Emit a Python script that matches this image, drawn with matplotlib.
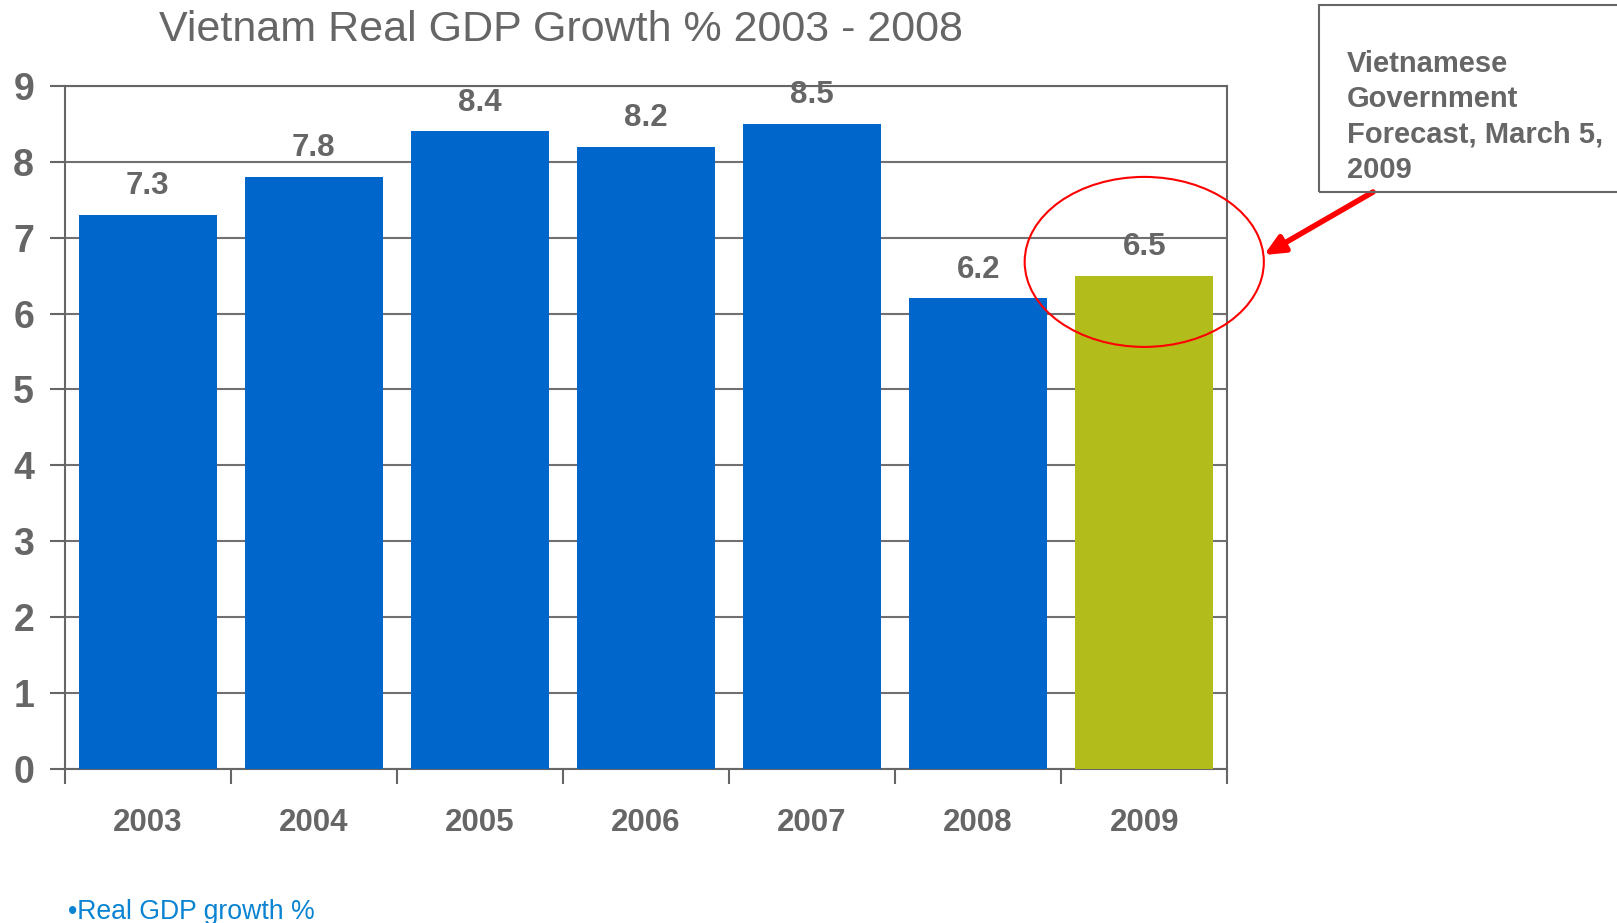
import matplotlib
matplotlib.use('Agg')
import matplotlib.pyplot as plt
from matplotlib.patches import Ellipse

plt.rcParams['font.family'] = ['Liberation Sans', 'DejaVu Sans']

years = ['2003', '2004', '2005', '2006', '2007', '2008', '2009']
growth = [7.3, 7.8, 8.4, 8.2, 8.5, 6.2, 6.5]
colors = ['#0066CC'] * 6 + ['#B2BC1B']
yticks = [0, 1, 2, 3, 4, 5, 6, 7, 8, 9]

gray = '#666666'

fig = plt.figure(figsize=(16.17, 9.23), dpi=100)
ax = fig.add_axes([0.040, 0.167, 0.719, 0.740])

x = list(range(len(years)))
ax.bar(x, growth, width=0.83, color=colors, zorder=3)

for xi, v in zip(x, growth):
    ax.text(xi, v + 0.18, f'{v:.1f}', ha='center', va='bottom',
            fontsize=22.5, fontweight='bold', color=gray)

ax.set_xlim(-0.5, 6.5)
ax.set_ylim(0, 9)
ax.set_yticks(yticks)
ax.set_yticklabels([str(t) for t in yticks], fontsize=27, fontweight='bold', color=gray)
ax.tick_params(axis='y', length=11, width=1.5, color=gray, pad=11)
ax.yaxis.grid(True, color='#707070', linewidth=1.5, zorder=0)
ax.set_axisbelow(True)

# boundaries between categories carry the ticks, labels sit in the middle
ax.set_xticks([i - 0.5 for i in range(len(years) + 1)])
ax.set_xticklabels([])
ax.set_xticks(x, minor=True)
ax.set_xticklabels(years, minor=True, fontsize=22.5, fontweight='bold', color=gray)
ax.tick_params(axis='x', which='major', length=11, width=1.5, color=gray, direction='out')
ax.tick_params(axis='x', which='minor', length=0, pad=28)

for s in ax.spines.values():
    s.set_color(gray)
    s.set_linewidth(1.5)

fig.text(0.347, 0.967, 'Vietnam Real GDP Growth % 2003 - 2008', ha='center', va='center',
         fontsize=31, color=gray)

# forecast highlight
ell = Ellipse((6, 6.68), 1.44, 2.24, fill=False, edgecolor='#FF0000', linewidth=1.5,
              clip_on=False, zorder=5)
ax.add_patch(ell)

fig.text(0.833, 0.873, 'Vietnamese\nGovernment\nForecast, March 5,\n2009', ha='left', va='center',
         fontsize=21, fontweight='bold', color=gray, linespacing=1.34)
box = plt.Rectangle((1319 / 1617, 1 - 192 / 923), 0.3, 187 / 923, transform=fig.transFigure,
                    fill=False, edgecolor=gray, linewidth=1.5)
fig.patches.append(box)

ax.annotate('', xy=(1264, 668), xycoords='figure pixels',
            xytext=(1373, 731), textcoords='figure pixels',
            arrowprops=dict(arrowstyle='-|>,head_length=1.2,head_width=0.55', color='#FF0000',
                            linewidth=4, shrinkA=0, shrinkB=0))

fig.text(0.042, 0.012, '•Real GDP growth %', ha='left', va='center', fontsize=19.2, color='#0A84D2')

fig.savefig('out.png', dpi=100)
